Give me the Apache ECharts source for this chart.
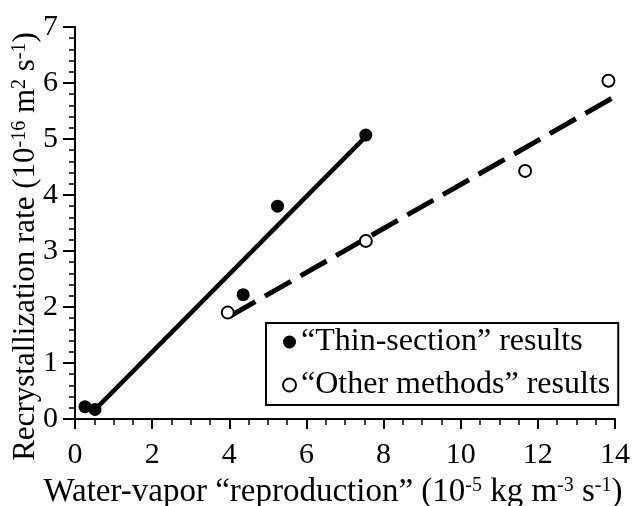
<!DOCTYPE html>
<html>
<head>
<meta charset="utf-8">
<script src="https://cdn.jsdelivr.net/npm/echarts@6/dist/echarts.min.js"></script>
<style>
html,body{margin:0;padding:0;background:#fff;}
#chart{width:634px;height:506px;}
</style>
</head>
<body>
<div id="chart"></div>
<script>
// Data
var thinSectionX = [0.26, 0.52, 4.36, 5.25, 7.54];
var thinSectionY = [0.22, 0.17, 2.22, 3.80, 5.07];
var otherMethodsX = [3.96, 7.54, 11.67, 13.83];
var otherMethodsY = [1.90, 3.18, 4.43, 6.04];
// Fitted trend lines (end points)
var thinFitX = [0.55, 7.55];
var thinFitY = [0.19, 5.05];
var otherFitX = [4.0, 14.0];
var otherFitY = [1.83, 5.76];
var xTicks = [0, 2, 4, 6, 8, 10, 12, 14];
var yTicks = [0, 1, 2, 3, 4, 5, 6, 7];
var legendNames = ['\u201cThin-section\u201d results', '\u201cOther methods\u201d results'];

function zip(xs, ys) { return xs.map(function (x, i) { return [x, ys[i]]; }); }

var FONT = 'Liberation Serif';
var chart = echarts.init(document.getElementById('chart'), null, {renderer: 'canvas'});
var supStyle = {fontFamily: FONT, fontSize: 20, color: '#000', verticalAlign: 'top', padding: [0, 0, 12, 0]};

chart.setOption({
  animation: false,
  backgroundColor: '#fff',
  grid: {left: 75, right: 19, top: 27, bottom: 87, containLabel: false, outerBoundsMode: 'none'},
  legend: {
    left: 266, top: 323,
    orient: 'vertical',
    data: legendNames,
    backgroundColor: '#fff',
    borderColor: '#000',
    borderWidth: 2,
    borderRadius: 0,
    padding: [3, 8, 4, 16],
    itemGap: 11,
    itemWidth: 13,
    itemHeight: 13,
    textStyle: {fontFamily: FONT, fontSize: 32, color: '#000'}
  },
  xAxis: {
    type: 'value', min: 0, max: 14, interval: 2,
    name: 'Water-vapor \u201creproduction\u201d (10{sup|-5} kg m{sup|-3} s{sup|-1})',
    nameLocation: 'middle', nameGap: 57, nameMoveOverlap: false,
    nameTextStyle: {fontFamily: FONT, fontSize: 33, color: '#000', padding: [0, 24, 0, 0], rich: {sup: supStyle}},
    axisLine: {show: true, onZero: false, lineStyle: {color: '#000', width: 2}},
    axisTick: {show: true, inside: false, length: 10, lineStyle: {color: '#000', width: 2}},
    minorTick: {show: true, splitNumber: 4, length: 6, lineStyle: {color: '#000', width: 1.5}},
    axisLabel: {fontFamily: FONT, fontSize: 30, color: '#000', margin: 21,
      formatter: function (v) { return xTicks.indexOf(v) >= 0 ? String(v) : ''; }},
    splitLine: {show: false}
  },
  yAxis: {
    type: 'value', min: 0, max: 7, interval: 1,
    name: 'Recrystallization rate (10{sup|-16} m{sup|2} s{sup|-1})',
    nameLocation: 'middle', nameGap: 33, nameMoveOverlap: false,
    nameTextStyle: {fontFamily: FONT, fontSize: 31, color: '#000', padding: [0, 47, 0, 0], rich: {sup: supStyle}},
    axisLine: {show: true, onZero: false, lineStyle: {color: '#000', width: 2}},
    axisTick: {show: true, inside: false, length: 12, lineStyle: {color: '#000', width: 2}},
    minorTick: {show: true, splitNumber: 5, length: 6, lineStyle: {color: '#000', width: 1.5}},
    axisLabel: {fontFamily: FONT, fontSize: 30, color: '#000', margin: 17,
      formatter: function (v) { return yTicks.indexOf(v) >= 0 ? String(v) : ''; }},
    splitLine: {show: false}
  },
  series: [
    {
      type: 'line', data: zip(thinFitX, thinFitY), symbol: 'none', silent: true,
      lineStyle: {color: '#000', width: 4.5, cap: 'round'}, z: 2
    },
    {
      type: 'line', data: zip(otherFitX, otherFitY), symbol: 'none', silent: true,
      lineStyle: {color: '#000', width: 5, type: [30, 11]}, z: 2
    },
    {
      name: legendNames[0], type: 'scatter', data: zip(thinSectionX, thinSectionY),
      symbol: 'circle', symbolSize: 13,
      itemStyle: {color: '#000', opacity: 1}, z: 3
    },
    {
      name: legendNames[1], type: 'scatter', data: zip(otherMethodsX, otherMethodsY),
      symbol: 'circle', symbolSize: 12,
      itemStyle: {color: '#fff', borderColor: '#000', borderWidth: 2, opacity: 1}, z: 3
    }
  ]
});
</script>
</body>
</html>
